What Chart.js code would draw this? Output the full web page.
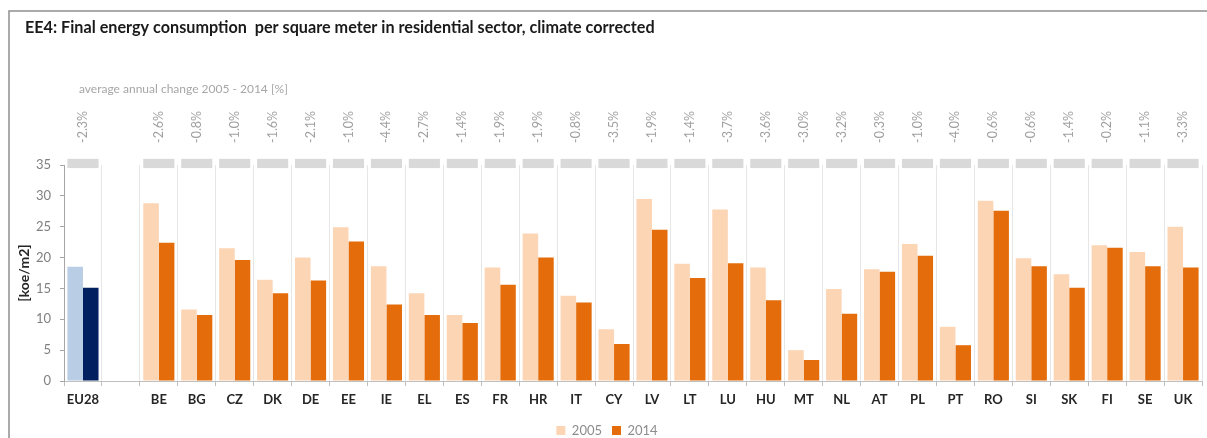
<!DOCTYPE html>
<html>
<head>
<meta charset="utf-8">
<script src="https://cdn.jsdelivr.net/npm/chart.js@4.4.1/dist/chart.umd.min.js"></script>
<style>
  html, body { margin: 0; padding: 0; background: #ffffff; }
  #wrap { width: 1207px; height: 438px; position: relative; }
</style>
</head>
<body>
<div id="wrap"><canvas id="chart" width="1207" height="438"></canvas></div>
<script>
// EU28 aggregate, a spacer slot, then the 28 member states
const categories = ['EU28', '', 'BE', 'BG', 'CZ', 'DK', 'DE', 'EE', 'IE', 'EL', 'ES', 'FR', 'HR', 'IT', 'CY',
  'LV', 'LT', 'LU', 'HU', 'MT', 'NL', 'AT', 'PL', 'PT', 'RO', 'SI', 'SK', 'FI', 'SE', 'UK'];

// Final energy consumption per m2, climate corrected [koe/m2]
const values2005 = [18.5, null, 28.8, 11.6, 21.5, 16.4, 20.0, 24.9, 18.6, 14.2, 10.7, 18.4, 23.9, 13.8, 8.4,
  29.5, 19.0, 27.8, 18.4, 5.0, 14.9, 18.1, 22.2, 8.8, 29.2, 19.9, 17.3, 22.0, 20.9, 25.0];
const values2014 = [15.1, null, 22.4, 10.7, 19.6, 14.2, 16.3, 22.6, 12.4, 10.7, 9.4, 15.6, 20.0, 12.7, 6.0,
  24.5, 16.7, 19.1, 13.1, 3.4, 10.9, 17.7, 20.3, 5.8, 27.6, 18.6, 15.1, 21.6, 18.6, 18.4];

// Average annual change 2005 - 2014 [%]
const annualChange = [-2.3, null, -2.6, -0.8, -1.0, -1.6, -2.1, -1.0, -4.4, -2.7, -1.4, -1.9, -1.9, -0.8, -3.5,
  -1.9, -1.4, -3.7, -3.6, -3.0, -3.2, -0.3, -1.0, -4.0, -0.6, -0.6, -1.4, -0.2, -1.1, -3.3];

const seriesLabels = ['2005', '2014'];
const yTickValues = [0, 5, 10, 15, 20, 25, 30, 35];

const FONT = 'Lato, "Open Sans", sans-serif';
const COLOR_2005 = '#fcd5b5';
const COLOR_2014 = '#e46c0a';
const COLOR_EU_2005 = '#b9cde5';
const COLOR_EU_2014 = '#002060';

const colors2005 = categories.map(c => c === 'EU28' ? COLOR_EU_2005 : COLOR_2005);
const colors2014 = categories.map(c => c === 'EU28' ? COLOR_EU_2014 : COLOR_2014);

// Frame, heading, the grey header strip and the rotated change labels
const decorations = {
  id: 'decorations',
  beforeDraw(chart) {
    const ctx = chart.ctx;
    ctx.save();
    ctx.fillStyle = '#ffffff';
    ctx.fillRect(0, 0, chart.width, chart.height);
    ctx.strokeStyle = '#8f8f8f';
    ctx.lineWidth = 1.5;
    ctx.beginPath();
    ctx.moveTo(9, chart.height);
    ctx.lineTo(9, 11);
    ctx.lineTo(chart.width, 11);
    ctx.stroke();

    ctx.fillStyle = '#1a1a1a';
    ctx.font = 'bold 16.2px ' + FONT;
    ctx.textBaseline = 'middle';
    ctx.textAlign = 'left';
    ctx.fillText('EE4: Final energy consumption  per square meter in residential sector, climate corrected', 25, 28);

    ctx.fillStyle = '#a6a6a6';
    ctx.font = '12px ' + FONT;
    ctx.fillText('average annual change 2005 - 2014 [%]', 79, 89);
    ctx.restore();
  },
  afterDatasetsDraw(chart) {
    const ctx = chart.ctx;
    const xs = chart.scales.x;
    const ys = chart.scales.y;
    const slot = (xs.right - xs.left) / categories.length;
    const half = slot * 0.41;
    const top = ys.getPixelForValue(36);
    const bottom = ys.getPixelForValue(34.5);
    ctx.save();
    annualChange.forEach((v, i) => {
      if (v === null) return;
      const cx = xs.getPixelForValue(i);
      ctx.fillStyle = '#d9d9d9';
      ctx.fillRect(cx - half, top, half * 2, bottom - top);

      ctx.save();
      ctx.translate(cx, 143);
      ctx.rotate(-Math.PI / 2);
      ctx.fillStyle = '#a0a0a0';
      ctx.font = '12.5px ' + FONT;
      ctx.textAlign = 'left';
      ctx.textBaseline = 'middle';
      ctx.fillText(v.toFixed(1) + '%', 0, 0);
      ctx.restore();
    });
    ctx.restore();
  }
};

new Chart(document.getElementById('chart'), {
  type: 'bar',
  data: {
    labels: categories,
    datasets: [
      { label: seriesLabels[0], data: values2005, backgroundColor: colors2005, borderWidth: 0 },
      { label: seriesLabels[1], data: values2014, backgroundColor: colors2014, borderWidth: 0 }
    ]
  },
  options: {
    responsive: false,
    devicePixelRatio: 1,
    animation: false,
    datasets: { bar: { categoryPercentage: 0.82, barPercentage: 1.0 } },
    layout: { padding: { left: 12, right: 5, top: 165, bottom: -9 } },
    plugins: {
      tooltip: { enabled: false },
      legend: {
        position: 'bottom',
        labels: {
          boxWidth: 9,
          boxHeight: 9,
          padding: 10,
          color: '#8c8c8c',
          font: { family: FONT, size: 13 },
          generateLabels: () => seriesLabels.map((t, i) => ({
            text: t,
            fillStyle: i === 0 ? COLOR_2005 : COLOR_2014,
            strokeStyle: i === 0 ? COLOR_2005 : COLOR_2014,
            lineWidth: 0,
            fontColor: '#8c8c8c',
            datasetIndex: i
          }))
        }
      }
    },
    scales: {
      x: {
        grid: { offset: true, color: '#e6e6e6', tickColor: '#bfbfbf', tickLength: 5, lineWidth: 1 },
        border: { color: '#bfbfbf' },
        ticks: { color: '#262626', font: { family: FONT, size: 13, weight: 'bold' }, padding: 6, maxRotation: 0, autoSkip: false },
        afterFit(scale) { scale.height = 33; }
      },
      y: {
        min: 0,
        max: 35,
        afterBuildTicks(scale) { scale.ticks = yTickValues.map(v => ({ value: v })); },
        grid: { drawOnChartArea: false, tickLength: 4, tickColor: '#a6a6a6' },
        border: { color: '#a6a6a6' },
        ticks: { color: '#808080', font: { family: FONT, size: 13 }, padding: 9 },
        title: { display: true, text: '[koe/m2]', color: '#262626', font: { family: FONT, size: 14, weight: 'bold' }, padding: { top: 4, bottom: 0 } },
        afterFit(scale) { scale.width = 52; }
      }
    }
  },
  plugins: [decorations]
});
</script>
</body>
</html>
